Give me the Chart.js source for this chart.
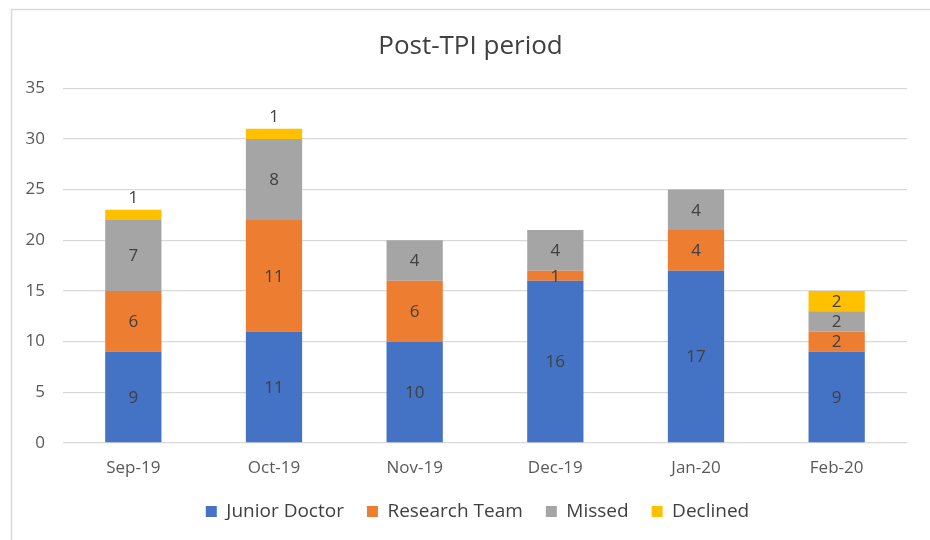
<!DOCTYPE html>
<html>
<head>
<meta charset="utf-8">
<script src="https://cdn.jsdelivr.net/npm/chart.js@4/dist/chart.umd.min.js"></script>
<style>
  html, body { margin: 0; padding: 0; background: #ffffff; }
  #wrap { width: 930px; height: 540px; position: relative; }
</style>
</head>
<body>
<div id="wrap"><canvas id="c" width="930" height="540"></canvas></div>
<script>
const categories = ["Sep-19", "Oct-19", "Nov-19", "Dec-19", "Jan-20", "Feb-20"];
const juniorDoctor = [9, 11, 10, 16, 17, 9];
const researchTeam = [6, 11, 6, 1, 4, 2];
const missed = [7, 8, 4, 4, 4, 2];
const declined = [1, 1, 0, 0, 0, 2];
const seriesNames = ["Junior Doctor", "Research Team", "Missed", "Declined"];
const seriesColors = ["#4472C4", "#ED7D31", "#A5A5A5", "#FFC000"];
const titleText = "Post-TPI period";

const FONT = "'Open Sans', 'Noto Sans', sans-serif";

const frame = {
  id: 'frame',
  beforeDraw(chart) {
    const ctx = chart.ctx;
    ctx.save();
    ctx.fillStyle = '#ffffff';
    ctx.fillRect(0, 0, chart.width, chart.height);
    ctx.strokeStyle = '#d9d9d9';
    ctx.lineWidth = 1.5;
    ctx.strokeRect(11.5, 9.5, chart.width + 10, chart.height + 10);
    ctx.restore();
  }
};

const dataLabels = {
  id: 'dataLabels',
  afterDatasetsDraw(chart) {
    const ctx = chart.ctx;
    ctx.save();
    ctx.font = "17px " + FONT;
    ctx.fillStyle = '#404040';
    ctx.textAlign = 'center';
    ctx.textBaseline = 'middle';
    const last = chart.data.datasets.length - 1;
    chart.data.datasets.forEach((ds, di) => {
      const meta = chart.getDatasetMeta(di);
      meta.data.forEach((bar, i) => {
        const v = ds.data[i];
        if (!v) return;
        const top = Math.min(bar.y, bar.base);
        const h = Math.abs(bar.base - bar.y);
        let y = top + h / 2;
        if (di === last && h < 14) y = top - 13;
        ctx.fillText(String(v), bar.x, y + 1);
      });
    });
    ctx.restore();
  }
};

const datasetsArr = [juniorDoctor, researchTeam, missed, declined].map((d, i) => ({
  label: seriesNames[i],
  data: d,
  backgroundColor: seriesColors[i],
  borderWidth: 0,
  barPercentage: 0.4,
  categoryPercentage: 1.0
}));

const chart = new Chart(document.getElementById('c'), {
  type: 'bar',
  data: { labels: categories, datasets: datasetsArr },
  options: {
    responsive: false,
    animation: false,
    layout: { padding: { left: 0, right: 23, top: 0, bottom: 16 } },
    plugins: {
      title: {
        display: true,
        text: titleText,
        color: '#404040',
        font: { family: FONT, size: 26, weight: 'normal' },
        padding: { top: 29, bottom: 28 }
      },
      legend: {
        position: 'bottom',
        labels: {
          boxWidth: 11,
          boxHeight: 11,
          padding: 23,
          color: '#404040',
          font: { family: FONT, size: 19 }
        }
      },
      tooltip: { enabled: false }
    },
    scales: {
      x: {
        stacked: true,
        grid: { display: false, drawTicks: false },
        border: { display: false },
        ticks: { color: '#595959', font: { family: FONT, size: 17 }, padding: 15 },
        afterFit(s) { s.height = 40; }
      },
      y: {
        stacked: true,
        min: 0,
        max: 35,
        ticks: { stepSize: 5, color: '#595959', font: { family: FONT, size: 17 }, padding: 18 },
        grid: { color: '#d9d9d9', lineWidth: 1.3, drawTicks: false },
        border: { display: false },
        afterFit(s) { s.width = 63; }
      }
    }
  },
  plugins: [frame, dataLabels]
});

function shiftBox(box, dx, dy) {
  const d = box.draw.bind(box);
  box.draw = function () {
    this.left += dx; this.right += dx; this.top += dy; this.bottom += dy;
    d.apply(null, arguments);
    this.left -= dx; this.right -= dx; this.top -= dy; this.bottom -= dy;
  };
}

const origFit = chart.legend.fit.bind(chart.legend);
chart.legend.fit = function () { origFit(); this.height = 41; };
shiftBox(chart.legend, 24, -4);
shiftBox(chart.titleBlock, 17, 2);
chart.update();
</script>
</body>
</html>
